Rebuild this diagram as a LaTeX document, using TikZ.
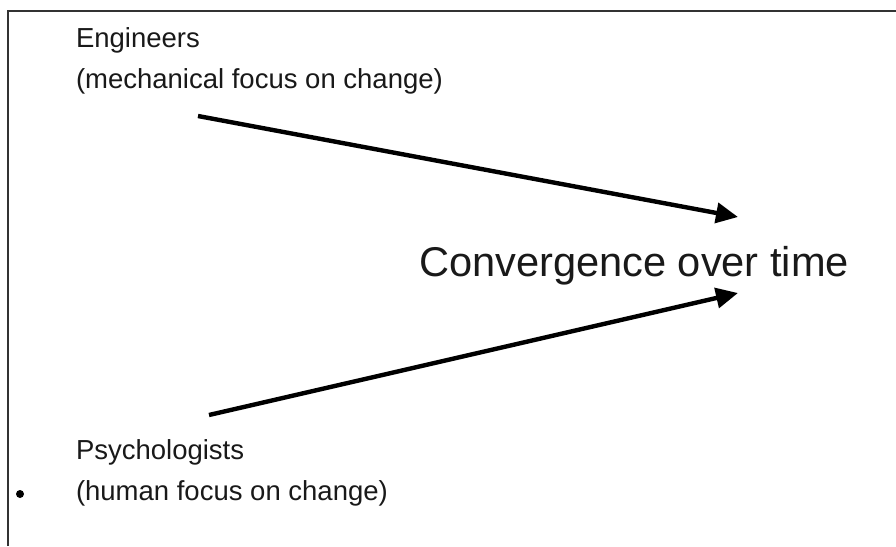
\documentclass[tikz,border=0pt]{standalone}
\usepackage{fontspec}
\setmainfont{Liberation Sans}
\usetikzlibrary{arrows.meta}
\begin{document}
\begin{tikzpicture}[x=1pt,y=-1pt,
  frameline/.style={draw=black!80,line width=1.3pt},
  label/.style={inner sep=0pt,outer sep=0pt,align=left,anchor=base west,text=black!90,font=\fontsize{27.5}{41}\selectfont},
  bigtext/.style={inner sep=0pt,outer sep=0pt,anchor=base west,text=black!90,font=\fontsize{41.6}{48}\selectfont},
  conv/.style={line width=4.4pt,-{Triangle[length=22pt,width=20pt]}}]
\useasboundingbox (0,0) rectangle (896,546);
\fill[white] (0,0) rectangle (896,546);
\coordinate (fl) at (8,546);
\coordinate (fc) at (8,11);
\coordinate (fr) at (896,11);
\draw[frameline] (fl) -- (fc) -- (fr);
\node[label] (eng) at (76,88) {Engineers\\(mechanical focus on change)};
\node[label] (psy) at (76,500) {Psychologists\\(human focus on change)};
\node[bigtext] (conv) at (419,276) {Convergence over time};
\coordinate (es) at (198,116);
\coordinate (et) at (738,217);
\coordinate (ps) at (209,415);
\coordinate (pt) at (738,293);
\draw[conv] (es) -- (et);
\draw[conv] (ps) -- (pt);
\fill (20,494) circle[radius=4pt];
\end{tikzpicture}
\end{document}
